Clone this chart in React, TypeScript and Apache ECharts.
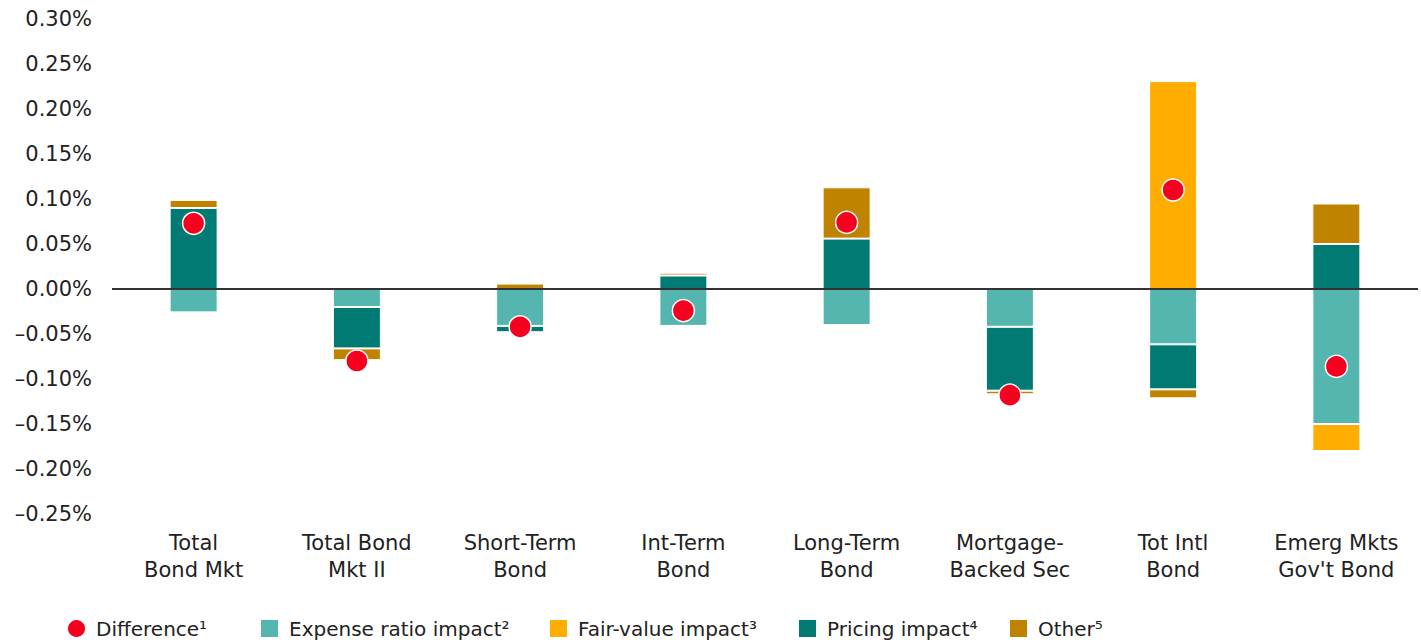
import React, { useEffect, useRef } from "react";
import * as echarts from "echarts";

const categories = [
  "Total\nBond Mkt",
  "Total Bond\nMkt II",
  "Short-Term\nBond",
  "Int-Term\nBond",
  "Long-Term\nBond",
  "Mortgage-\nBacked Sec",
  "Tot Intl\nBond",
  "Emerg Mkts\nGov't Bond",
];
const expenseRatio = [-0.026, -0.02, -0.041, -0.041, -0.04, -0.042, -0.0615, -0.15];
const fairValue = [0, 0, 0, 0, 0, 0, 0.231, -0.03];
const pricing = [0.09, -0.046, -0.007, 0.015, 0.056, -0.071, -0.05, 0.05];
const other = [0.009, -0.013, 0.006, 0.003, 0.057, -0.004, -0.01, 0.045];
const difference = [0.073, -0.08, -0.042, -0.024, 0.074, -0.118, 0.11, -0.086];

const yMin = -0.25;
const yMax = 0.3;
const yStep = 0.05;

const names = {
  diff: "Difference¹",
  exp: "Expense ratio impact²",
  fair: "Fair-value impact³",
  pricing: "Pricing impact⁴",
  other: "Other⁵",
};

const legendItems = [
  { name: names.diff, icon: "circle", left: 66 },
  { name: names.exp, icon: "rect", left: 259 },
  { name: names.fair, icon: "rect", left: 548 },
  { name: names.pricing, icon: "rect", left: 797 },
  { name: names.other, icon: "rect", left: 1008 },
];

const FONT = "DejaVu Sans";

export default function App() {
  const ref = useRef<HTMLDivElement>(null);
  useEffect(() => {
    if (!ref.current) return;
    const chart = echarts.init(ref.current, null, { renderer: "svg" });
    const barBase = (name: string, data: number[], color: string) => ({
      name,
      type: "bar",
      stack: "total",
      data,
      barWidth: 48,
      itemStyle: { color, borderColor: "#ffffff", borderWidth: 1 },
      z: 2,
    });
    chart.setOption({
      animation: false,
      textStyle: { fontFamily: FONT },
      grid: { left: 112, right: 3, top: 19, bottom: 128, containLabel: false },
      legend: legendItems.map((it) => ({
        left: it.left,
        top: 618,
        padding: 0,
        itemWidth: 19,
        itemHeight: 19,
        selectedMode: false,
        textStyle: { fontSize: 20, color: "#222", fontFamily: FONT, padding: [0, 0, 0, 5] },
        data: [{ name: it.name, icon: it.icon }],
      })),
      xAxis: {
        type: "category",
        data: categories,
        axisLine: { show: false },
        axisTick: { show: false },
        axisLabel: {
          fontSize: 21,
          color: "#222",
          lineHeight: 27,
          margin: 15,
          interval: 0,
          fontFamily: FONT,
        },
      },
      yAxis: {
        type: "value",
        min: yMin,
        max: yMax,
        interval: yStep,
        splitLine: { show: false },
        axisLine: { show: false },
        axisTick: { show: false },
        axisLabel: {
          fontSize: 21,
          color: "#222",
          margin: 20,
          fontFamily: FONT,
          formatter: (v: number) => {
            const s = Math.abs(v).toFixed(2) + "%";
            return v < -1e-9 ? "–" + s : s;
          },
        },
      },
      series: [
        {
          ...barBase(names.exp, expenseRatio, "#55B6B0"),
          markLine: {
            silent: true,
            symbol: "none",
            label: { show: false },
            lineStyle: { color: "#333333", width: 2, type: "solid" },
            data: [{ yAxis: 0 }],
            z: 5,
          },
        },
        barBase(names.fair, fairValue, "#FFAD00"),
        barBase(names.pricing, pricing, "#007A72"),
        barBase(names.other, other, "#BF8300"),
        {
          name: names.diff,
          type: "scatter",
          data: difference,
          symbol: "circle",
          symbolSize: 22,
          itemStyle: { color: "#F5001E", borderColor: "#ffffff", borderWidth: 1.5, opacity: 1 },
          z: 10,
        },
      ],
    });
    return () => chart.dispose();
  }, []);
  return (
    <div
      ref={ref}
      style={{ position: "fixed", left: 0, top: 0, width: 1421, height: 642, background: "#fff" }}
    />
  );
}
